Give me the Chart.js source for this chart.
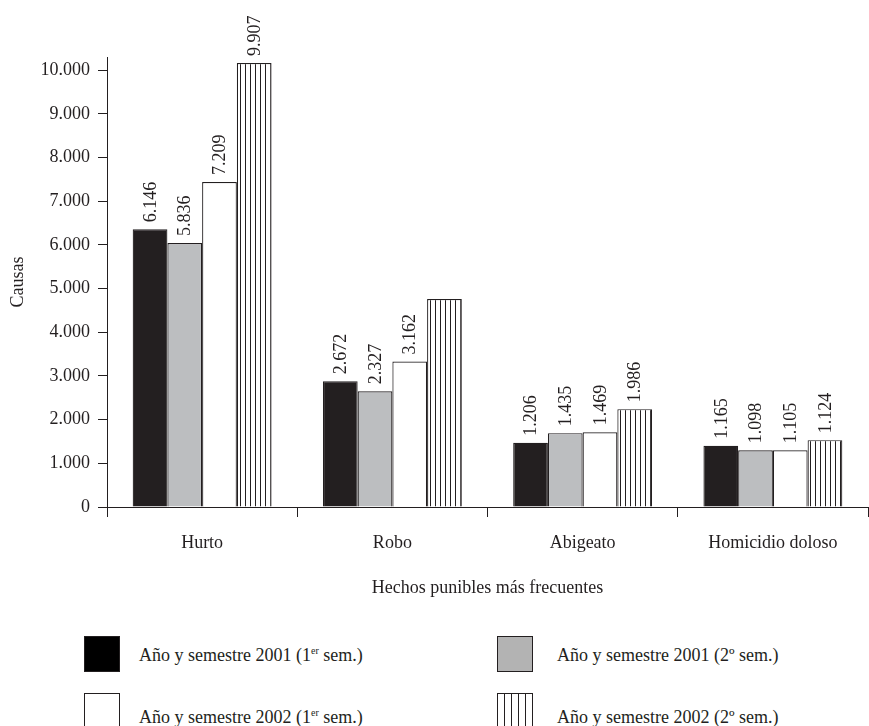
<!DOCTYPE html>
<html lang="es">
<head>
<meta charset="utf-8">
<script src="https://cdn.jsdelivr.net/npm/chart.js@4.4.1/dist/chart.umd.min.js"></script>
<style>
  html, body { margin: 0; padding: 0; background: #fff; }
  body {
    width: 869px; height: 726px; position: relative; overflow: hidden;
    font-family: "Liberation Serif", serif; color: #231f20;
  }
  #contenedor { position: absolute; left: 0; top: 0; width: 869px; height: 610px; }
  .caja { position: absolute; width: 34px; height: 34px; border: 1px solid #231f20; box-sizing: content-box; }
  .texto { position: absolute; font-size: 18px; line-height: 20px; white-space: nowrap; }
  .texto sup { font-size: 10px; vertical-align: 7px; line-height: 0; }
</style>
</head>
<body>
<div id="contenedor"><canvas id="grafico"></canvas></div>

<div class="caja" style="left:84px; top:636px; background:#000;"></div>
<div class="texto" style="left:139px; top:645px;">Año y semestre 2001 (1<sup>er</sup> sem.)</div>

<div class="caja" style="left:497px; top:636px; background:#b3b3b3;"></div>
<div class="texto" style="left:557px; top:645px;">Año y semestre 2001 (2º sem.)</div>

<div class="caja" style="left:84px; top:693px; background:#fff;"></div>
<div class="texto" style="left:139px; top:707px;">Año y semestre 2002 (1<sup>er</sup> sem.)</div>

<div class="caja" style="left:497px; top:693px; background:repeating-linear-gradient(90deg, #fff 0 6px, #231f20 6px 7px);"></div>
<div class="texto" style="left:557px; top:707px;">Año y semestre 2002 (2º sem.)</div>

<script>
// Categorías del eje X
const categorias = ['Hurto', 'Robo', 'Abigeato', 'Homicidio doloso'];

// Altura de cada barra tal como está dibujada (causas)
const barras2001s1 = [6360, 2880, 1470, 1400];
const barras2001s2 = [6040, 2650, 1690, 1300];
const barras2002s1 = [7440, 3330, 1710, 1300];
const barras2002s2 = [10160, 4760, 2240, 1530];

// Valores impresos sobre las barras
const rotulos2001s1 = ['6.146', '2.672', '1.206', '1.165'];
const rotulos2001s2 = ['5.836', '2.327', '1.435', '1.098'];
const rotulos2002s1 = ['7.209', '3.162', '1.469', '1.105'];
const rotulos2002s2 = ['9.907', null, '1.986', '1.124'];

// Marcas del eje Y
const marcasY = [0, 1000, 2000, 3000, 4000, 5000, 6000, 7000, 8000, 9000, 10000];

const TINTA = '#231f20';
const FUENTE = '"Liberation Serif", serif';
const TAM = 18;

const canvas = document.getElementById('grafico');
const ctx = canvas.getContext('2d');

// Relleno de rayas verticales para 2002 (2º sem.)
function crearRayado() {
    const c = document.createElement('canvas');
    c.width = 5;
    c.height = 10;
    const g = c.getContext('2d');
    g.fillStyle = '#fff';
    g.fillRect(0, 0, 5, 10);
    g.fillStyle = TINTA;
    g.fillRect(0, 0, 1, 10);
    return ctx.createPattern(c, 'repeat');
}

function conPunto(v) {
    return String(v).replace(/\B(?=(\d{3})+(?!\d))/g, '.');
}

// Rótulos verticales encima de cada barra
const rotulosPlugin = {
    id: 'rotulos',
    afterDatasetsDraw(chart) {
        const c = chart.ctx;
        chart.data.datasets.forEach((ds, i) => {
            chart.getDatasetMeta(i).data.forEach((bar, j) => {
                const txt = ds.rotulos[j];
                if (!txt) return;
                c.save();
                c.translate(bar.x + 1, bar.y - 7);
                c.rotate(-Math.PI / 2);
                c.font = TAM + 'px ' + FUENTE;
                c.fillStyle = TINTA;
                c.textAlign = 'left';
                c.textBaseline = 'middle';
                c.fillText(txt, 0, 0);
                c.restore();
            });
        });
    }
};

const comunes = {
    borderColor: TINTA,
    borderWidth: 1.2,
    borderSkipped: 'bottom',
    categoryPercentage: 0.73,
    barPercentage: 1
};

new Chart(canvas, {
    type: 'bar',
    data: {
        labels: categorias,
        datasets: [
            { ...comunes, label: '2001 (1er sem.)', data: barras2001s1, rotulos: rotulos2001s1, backgroundColor: TINTA },
            { ...comunes, label: '2001 (2º sem.)', data: barras2001s2, rotulos: rotulos2001s2, backgroundColor: '#bcbec0' },
            { ...comunes, label: '2002 (1er sem.)', data: barras2002s1, rotulos: rotulos2002s1, backgroundColor: '#ffffff' },
            { ...comunes, label: '2002 (2º sem.)', data: barras2002s2, rotulos: rotulos2002s2, backgroundColor: crearRayado() }
        ]
    },
    options: {
        responsive: true,
        maintainAspectRatio: false,
        animation: false,
        layout: { padding: { left: 0, right: 1, top: 57, bottom: 0 } },
        plugins: {
            legend: { display: false },
            tooltip: { enabled: false }
        },
        scales: {
            x: {
                grid: {
                    display: true,
                    drawOnChartArea: false,
                    drawTicks: true,
                    tickLength: 10,
                    color: TINTA,
                    offset: true
                },
                border: { display: true, color: TINTA, width: 1 },
                ticks: { color: TINTA, font: { family: FUENTE, size: TAM }, padding: 15 },
                title: {
                    display: true,
                    text: 'Hechos punibles más frecuentes',
                    color: TINTA,
                    font: { family: FUENTE, size: TAM },
                    padding: { top: 0, bottom: 11 }
                },
                afterFit(s) { s.height = 103; }
            },
            y: {
                min: 0,
                max: 10300,
                afterBuildTicks(s) { s.ticks = marcasY.map(v => ({ value: v })); },
                grid: {
                    drawOnChartArea: false,
                    drawTicks: true,
                    tickLength: 9,
                    color: TINTA
                },
                border: { display: true, color: TINTA, width: 1 },
                ticks: {
                    color: TINTA,
                    font: { family: FUENTE, size: TAM },
                    padding: 8,
                    callback: v => conPunto(v)
                },
                title: {
                    display: true,
                    text: 'Causas',
                    color: TINTA,
                    font: { family: FUENTE, size: TAM },
                    padding: { top: 7, bottom: 0 }
                },
                afterFit(s) { s.width = 107; }
            }
        }
    },
    plugins: [rotulosPlugin]
});
</script>
</body>
</html>
